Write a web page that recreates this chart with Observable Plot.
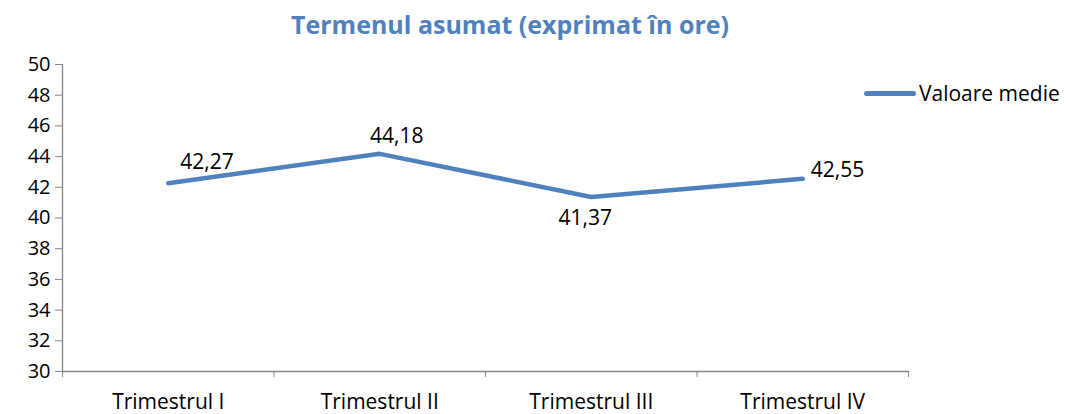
<!DOCTYPE html>
<html>
<head>
<meta charset="utf-8">
<script src="https://cdn.jsdelivr.net/npm/d3@7"></script>
<script src="https://cdn.jsdelivr.net/npm/@observablehq/plot@0.6"></script>
<style>
  html, body { margin: 0; padding: 0; background: #fff; }
  #wrap { position: relative; width: 1068px; height: 414px; font-family: "Open Sans", sans-serif; }
  #title { position: absolute; left: 0; width: 1020px; top: 7px; text-align: center; color: #4F81BD; font-weight: bold; font-size: 25px; font-family: "Open Sans", sans-serif; }
  #legend { position: absolute; left: 864px; top: 79px; display: flex; align-items: center; font-size: 21px; color: #000; }
  #legend span.sw { display: inline-block; width: 52px; height: 5px; border-radius: 3px; background: #4F81BD; margin-right: 3px; }
  #chart { position: absolute; left: 0; top: 0; }
</style>
</head>
<body>
<div id="wrap">
  <div id="chart"></div>
  <div id="title">Termenul asumat (exprimat în ore)</div>
  <div id="legend"><span class="sw"></span><span>Valoare medie</span></div>
</div>
<script>
const categories = ["Trimestrul I", "Trimestrul II", "Trimestrul III", "Trimestrul IV"];
const values = [42.27, 44.18, 41.37, 42.55];
const yTicks = [30, 32, 34, 36, 38, 40, 42, 44, 46, 48, 50];
const seriesName = "Valoare medie";

const data = categories.map((c, i) => ({cat: c, pos: i + 0.5, value: values[i]}));
const fmt = v => v.toFixed(2).replace(".", ",");
const axisColor = "#868686";
const blue = "#4F81BD";

const labelOpts = [
  {textAnchor: "start", dx: 12, dy: -21},
  {textAnchor: "middle", dx: 17, dy: -18},
  {textAnchor: "middle", dx: -6, dy: 21},
  {textAnchor: "start", dx: 8, dy: -9}
];

const plot = Plot.plot({
  width: 1068,
  height: 414,
  marginLeft: 62,
  marginRight: 160,
  marginTop: 64,
  marginBottom: 43,
  style: {fontFamily: "'Open Sans', sans-serif", background: "transparent"},
  x: {type: "linear", domain: [0, categories.length], axis: null},
  y: {domain: [30, 50], axis: null},
  marks: [
    Plot.ruleX([0], {stroke: axisColor, strokeWidth: 1.3}),
    Plot.ruleY([30], {stroke: axisColor, strokeWidth: 1.3}),
    Plot.axisY({ticks: yTicks, label: null, tickSize: 7, tickPadding: 5, stroke: axisColor, fill: "#000", fontSize: 20, tickFormat: d => String(d)}),
    Plot.axisX({ticks: d3.range(categories.length + 1), label: null, tickSize: 6, stroke: axisColor, tickFormat: () => ""}),
    Plot.axisX({ticks: data.map(d => d.pos), label: null, tickSize: 0, tickPadding: 23, fill: "#000", fontSize: 21, tickFormat: p => categories[Math.round(p - 0.5)]}),
    Plot.line(data, {x: "pos", y: "value", stroke: blue, strokeWidth: 4.5, strokeLinejoin: "round", strokeLinecap: "round"}),
    ...data.map((d, i) => Plot.text([d], {x: "pos", y: "value", text: r => fmt(r.value), fontSize: 21, fill: "#000", ...labelOpts[i]}))
  ]
});
document.getElementById("chart").appendChild(plot);
</script>
</body>
</html>
